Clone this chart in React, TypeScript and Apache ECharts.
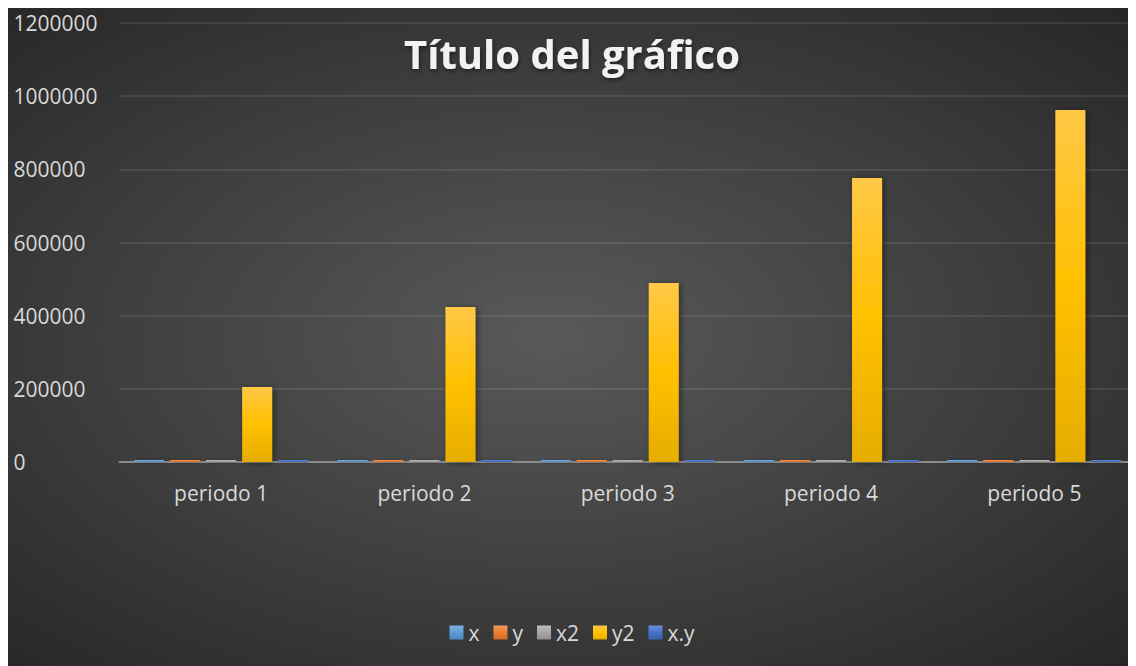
import React, { useEffect, useRef } from "react";
import * as echarts from "echarts";

const categories = ["periodo 1", "periodo 2", "periodo 3", "periodo 4", "periodo 5"];
const seriesNames = ["x", "y", "x2", "y2", "x.y"];
const xValues = [1, 2, 3, 4, 5];
const yValues = [453, 651, 699, 881, 981];
const x2Values = [1, 4, 9, 16, 25];
const y2Values = [205000, 424000, 489000, 776000, 962000];
const xyValues = [450, 1300, 2100, 3500, 4900];
const yTicks = { min: 0, max: 1200000, interval: 200000 };

const colorStops: [string, string, string][] = [
  ["#7eb3e3", "#5b9bd5", "#4f89bd"],
  ["#f39a5c", "#ed7d31", "#d16c27"],
  ["#bdbdbd", "#a5a5a5", "#919191"],
  ["#ffc846", "#ffc000", "#e6ad00"],
  ["#6a8fd6", "#4472c4", "#3963ad"],
];

export default function App() {
  const ref = useRef<HTMLDivElement>(null);
  useEffect(() => {
    if (!ref.current) return;
    const chart = echarts.init(ref.current, null, { renderer: "svg" });
    const allValues = [xValues, yValues, x2Values, y2Values, xyValues];
    const font = "'Open Sans', sans-serif";
    chart.setOption({
      animation: false,
      backgroundColor: "transparent",
      title: {
        text: "Título del gráfico",
        left: "center",
        top: 20,
        textStyle: {
          color: "#f2f2f2",
          fontSize: 40,
          fontWeight: "bold",
          fontFamily: font,
          textShadowBlur: 4,
          textShadowColor: "rgba(0,0,0,0.5)",
          textShadowOffsetX: 1,
          textShadowOffsetY: 2,
        },
      },
      legend: {
        bottom: 18,
        left: "center",
        itemWidth: 14,
        itemHeight: 14,
        itemGap: 14,
        icon: "rect",
        textStyle: { color: "#d9d9d9", fontSize: 21, fontFamily: font },
        data: seriesNames,
      },
      grid: { left: 111.5, right: -8.5, top: 15, bottom: 204, containLabel: false },
      xAxis: {
        type: "category",
        data: categories,
        axisLine: { lineStyle: { color: "#8c8c8c", width: 2 } },
        axisTick: { show: false },
        axisLabel: { color: "#d9d9d9", fontSize: 21, fontFamily: font, margin: 20 },
      },
      yAxis: {
        type: "value",
        min: yTicks.min,
        max: yTicks.max,
        interval: yTicks.interval,
        axisLine: { show: false },
        axisTick: { show: false },
        splitLine: { lineStyle: { color: "rgba(255,255,255,0.09)", width: 2 } },
        axisLabel: {
          color: "#d9d9d9",
          fontSize: 21,
          fontFamily: font,
          align: "left",
          margin: 106,
          formatter: (v: number) => String(v),
        },
      },
      series: seriesNames.map((name, i) => ({
        name,
        type: "bar",
        data: allValues[i],
        barWidth: 30,
        barGap: "20%",
        barMinHeight: 2,
        itemStyle: {
          color: new echarts.graphic.LinearGradient(0, 0, 0, 1, [
            { offset: 0, color: colorStops[i][0] },
            { offset: 0.5, color: colorStops[i][1] },
            { offset: 1, color: colorStops[i][2] },
          ]),
          shadowBlur: 6,
          shadowColor: "rgba(0,0,0,0.45)",
          shadowOffsetX: 2,
          shadowOffsetY: 1,
        },
      })),
    });
    return () => chart.dispose();
  }, []);
  return (
    <div
      ref={ref}
      style={{
        width: 1128,
        height: 658,
        background: "radial-gradient(ellipse at 48% 50%, #595959 0%, #404040 50%, #262626 100%)",
      }}
    />
  );
}
